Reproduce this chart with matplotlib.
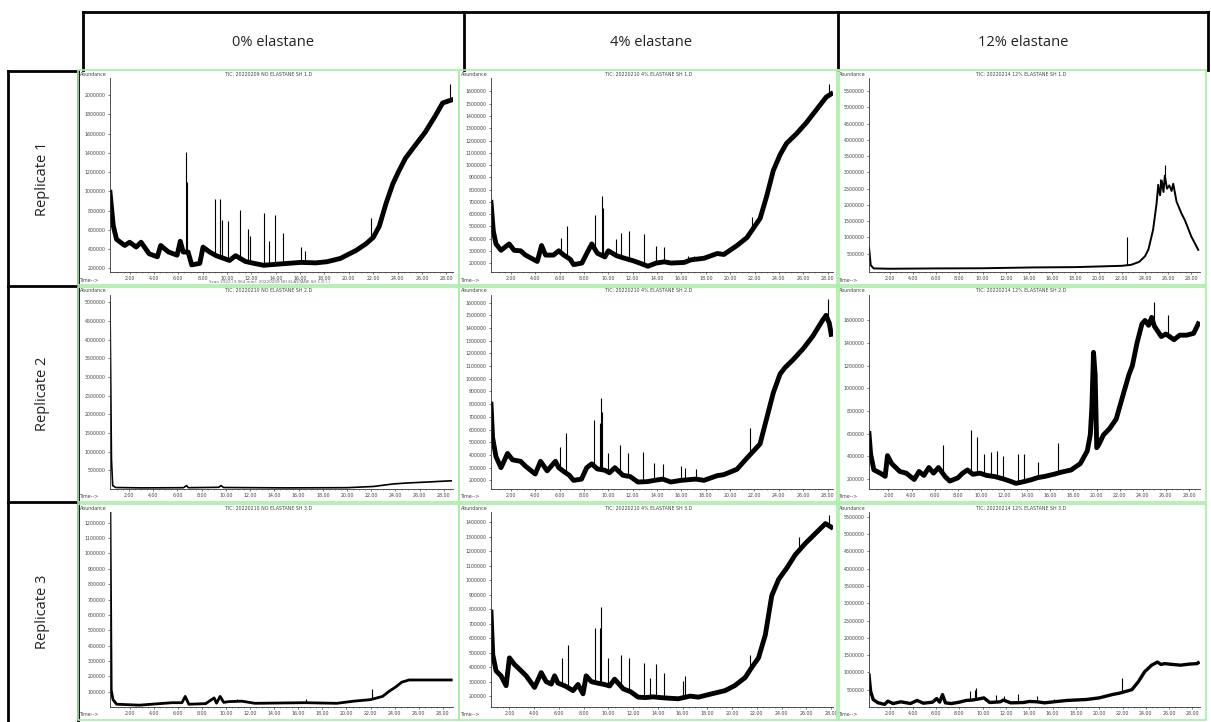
import numpy as np
import matplotlib.pyplot as plt
from matplotlib.lines import Line2D
from matplotlib.patches import Rectangle

W, H = 1211, 722

columns = ["0% elastane", "4% elastane", "12% elastane"]
replicates = ["Replicate 1", "Replicate 2", "Replicate 3"]

titles = [
    ["TIC: 20220209 NO ELASTANE SH 1.D", "TIC: 20220210 4% ELASTANE SH 1.D", "TIC: 20220214 12% ELASTANE SH 1.D"],
    ["TIC: 20220210 NO ELASTANE SH 2.D", "TIC: 20220210 4% ELASTANE SH 2.D", "TIC: 20220214 12% ELASTANE SH 2.D"],
    ["TIC: 20220210 NO ELASTANE SH 3.D", "TIC: 20220210 4% ELASTANE SH 3.D", "TIC: 20220214 12% ELASTANE SH 3.D"],
]

# baseline traces as (retention time [min], abundance); spikes as (time, apex)
base_0_1 = [(0.39, 990000), (0.66, 640000), (0.93, 500000), (1.6, 436000), (2.0, 470000), (2.54, 420000),
            (2.94, 470000), (3.6, 350000), (4.28, 318000), (4.55, 436000), (5.2, 368000), (5.9, 335000),
            (6.16, 480000), (6.4, 368000), (6.8, 368000), (7.1, 234000), (7.76, 250000), (8.03, 419000),
            (8.57, 368000), (9.1, 330000), (9.77, 300000), (10.2, 280000), (10.7, 330000), (11.5, 270000),
            (12.2, 250000), (13.0, 230000), (14.0, 240000), (15.0, 250000), (16.07, 260000), (17.28, 255000),
            (18.2, 267000), (19.3, 301000), (20.6, 385000), (21.4, 453000), (22.0, 520000), (22.5, 637000),
            (23.05, 873000), (23.6, 1075000), (24.1, 1210000), (24.65, 1345000), (25.45, 1480000),
            (26.26, 1614000), (27.07, 1780000), (27.7, 1920000), (28.4, 1950000)]
peaks_0_1 = [(6.64, 1410000), (6.7, 1100000), (8.97, 924000), (9.43, 924000), (9.56, 705000), (10.04, 688000),
             (11.1, 806000), (11.7, 604000), (11.9, 537000), (13.0, 772000), (13.45, 486000), (13.93, 755000),
             (14.6, 570000), (16.07, 419000), (16.4, 380000), (21.84, 722000), (28.27, 2120000)]

base_4_1 = [(0.37, 695000), (0.56, 460000), (0.78, 356000), (1.19, 304000), (1.86, 356000), (2.27, 304000),
            (2.8, 300000), (3.2, 265000), (4.17, 213000), (4.52, 343000), (4.85, 265000), (5.5, 265000),
            (5.93, 300000), (6.34, 265000), (6.88, 230000), (7.15, 187000), (7.83, 200000), (8.23, 278000),
            (8.64, 356000), (9.1, 280000), (9.72, 250000), (10.0, 300000), (10.67, 260000), (11.3, 240000),
            (12.0, 220000), (12.57, 200000), (13.25, 174000), (13.93, 200000), (14.6, 210000), (15.14, 200000),
            (16.23, 205000), (16.77, 226000), (17.85, 239000), (18.94, 278000), (19.48, 270000),
            (20.56, 343000), (21.38, 408000), (22.46, 565000), (23.0, 747000), (23.54, 955000),
            (24.1, 1085000), (24.63, 1177000), (25.44, 1255000), (26.26, 1346000), (27.07, 1450000),
            (27.88, 1554000), (28.29, 1580000)]
peaks_4_1 = [(6.15, 408000), (6.6, 500000), (8.91, 590000), (9.45, 747000), (9.55, 650000), (10.67, 395000),
             (11.08, 447000), (11.67, 460000), (12.92, 434000), (13.93, 343000), (14.6, 330000),
             (16.5, 260000), (17.0, 260000), (21.78, 577000), (28.15, 1660000)]

base_12_1 = [(0.2, 700000), (0.35, 150000), (0.6, 50000), (2.0, 40000), (6.0, 50000), (10.0, 55000),
             (14.3, 80000), (18.0, 90000), (22.0, 130000), (22.8, 160000), (23.5, 250000), (24.0, 420000),
             (24.3, 630000), (24.7, 1230000), (25.0, 2030000), (25.15, 2620000), (25.3, 2300000),
             (25.45, 2750000), (25.6, 2400000), (25.72, 2900000), (25.9, 2500000), (26.1, 2600000),
             (26.3, 2430000), (26.44, 2650000), (26.73, 2100000), (27.16, 1730000), (27.45, 1530000),
             (28.0, 1030000), (28.6, 620000)]
peaks_12_1 = [(22.43, 1010000), (25.3, 2800000), (25.72, 3220000)]

base_0_2 = [(0.43, 5000000), (0.55, 800000), (0.65, 93000), (0.9, 40000), (3.0, 30000), (6.5, 35000),
            (6.74, 90000), (6.9, 35000), (9.4, 45000), (9.6, 90000), (9.8, 40000), (15.0, 30000),
            (20.0, 35000), (22.2, 68000), (23.8, 135000), (24.9, 160000), (26.5, 185000), (28.6, 220000)]
peaks_0_2 = []

base_4_2 = [(0.37, 800000), (0.5, 537000), (0.78, 387000), (1.19, 300000), (1.73, 412000), (2.13, 362000),
            (2.8, 350000), (3.2, 312000), (4.0, 250000), (4.44, 350000), (4.98, 275000), (5.66, 350000),
            (5.93, 300000), (6.34, 270000), (6.8, 240000), (7.15, 200000), (7.8, 210000), (8.23, 300000),
            (8.64, 330000), (9.1, 290000), (9.7, 280000), (10.1, 260000), (10.54, 300000), (11.2, 240000),
            (11.8, 230000), (12.43, 187000), (13.2, 190000), (13.79, 200000), (14.47, 210000),
            (15.14, 187000), (15.96, 200000), (17.18, 210000), (17.85, 200000), (18.94, 237000),
            (19.48, 245000), (20.56, 287000), (21.38, 375000), (22.46, 487000), (23.0, 687000),
            (23.54, 887000), (24.1, 1037000), (24.5, 1087000), (25.17, 1150000), (26.0, 1237000),
            (26.8, 1337000), (27.6, 1462000), (27.88, 1500000), (28.15, 1437000), (28.3, 1350000)]
peaks_4_2 = [(6.07, 462000), (6.55, 575000), (8.86, 675000), (9.32, 650000), (9.4, 850000), (9.5, 737000),
             (9.94, 412000), (11.0, 475000), (11.62, 412000), (12.84, 425000), (13.79, 337000),
             (14.47, 325000), (15.96, 312000), (16.3, 300000), (17.18, 287000), (21.65, 612000),
             (28.0, 1625000)]

base_12_2 = [(0.32, 600000), (0.46, 419000), (0.74, 279000), (1.3, 250000), (1.72, 222000), (1.92, 405000),
             (2.28, 335000), (2.98, 265000), (3.54, 250000), (4.23, 194000), (4.65, 265000), (5.07, 230000),
             (5.5, 300000), (5.9, 250000), (6.33, 300000), (6.9, 220000), (7.3, 180000), (8.0, 208000),
             (8.42, 250000), (8.84, 278000), (9.3, 240000), (9.9, 250000), (10.5, 230000), (11.2, 220000),
             (11.9, 200000), (12.5, 180000), (13.03, 160000), (13.5, 170000), (14.3, 190000), (14.9, 210000),
             (15.55, 222000), (16.3, 240000), (17.0, 260000), (17.8, 278000), (18.6, 335000), (19.2, 447000),
             (19.46, 588000), (19.6, 840000), (19.74, 1318000), (19.88, 1120000), (20.02, 475000),
             (20.2, 503000), (20.6, 588000), (21.13, 644000), (21.7, 728000), (22.25, 925000),
             (22.8, 1120000), (23.1, 1200000), (23.5, 1400000), (23.93, 1570000), (24.2, 1600000),
             (24.5, 1557000), (24.77, 1627000), (25.0, 1550000), (25.6, 1458000), (26.0, 1480000),
             (26.7, 1430000), (27.2, 1470000), (27.8, 1470000), (28.4, 1486000), (28.8, 1570000)]
peaks_12_2 = [(6.75, 503000), (9.12, 630000), (9.63, 573000), (10.24, 419000), (10.88, 433000),
              (11.36, 447000), (11.92, 405000), (13.2, 419000), (13.73, 419000), (14.9, 349000),
              (16.66, 517000), (24.99, 1767000), (26.2, 1650000)]

base_0_3 = [(0.35, 1260000), (0.45, 110000), (0.6, 48000), (0.9, 18000), (2.8, 12000), (5.5, 28000),
            (6.33, 28000), (6.6, 69000), (6.9, 18000), (8.3, 22000), (9.0, 59000), (9.2, 25000),
            (9.5, 69000), (9.8, 30000), (10.2, 35000), (11.3, 38000), (12.4, 24000), (16.5, 28000),
            (19.2, 24000), (20.6, 38000), (22.0, 48000), (23.0, 69000), (23.5, 100000), (24.1, 131000),
            (24.6, 162000), (25.2, 176000), (25.7, 176000), (28.7, 176000)]
peaks_0_3 = [(10.9, 50000), (16.6, 50000), (22.1, 120000)]

base_4_3 = [(0.51, 780000), (0.65, 487000), (0.92, 374000), (1.32, 340000), (1.73, 272000), (2.0, 464000),
            (2.4, 419000), (2.95, 374000), (3.35, 340000), (4.03, 260000), (4.57, 362000), (4.97, 300000),
            (5.38, 283000), (5.65, 340000), (5.92, 290000), (6.5, 270000), (7.14, 238000), (7.54, 280000),
            (7.95, 216000), (8.2, 340000), (8.62, 300000), (9.1, 290000), (9.7, 280000), (10.1, 270000),
            (10.5, 317000), (11.2, 250000), (11.8, 230000), (12.4, 193000), (13.0, 190000), (13.6, 195000),
            (14.2, 190000), (15.0, 185000), (15.65, 182000), (16.6, 200000), (17.27, 193000),
            (18.35, 216000), (19.43, 238000), (20.2, 272000), (21.05, 328000), (21.6, 400000),
            (22.13, 464000), (22.68, 622000), (23.2, 893000), (23.76, 1006000), (24.43, 1085000),
            (25.1, 1175000), (25.92, 1254000), (26.73, 1322000), (27.54, 1390000), (28.0, 1366000)]
peaks_4_3 = [(6.27, 464000), (6.73, 554000), (8.89, 667000), (9.3, 667000), (9.43, 814000), (9.97, 464000),
             (11.05, 487000), (11.65, 464000), (12.9, 430000), (13.35, 328000), (13.84, 419000),
             (14.5, 362000), (16.0, 306000), (16.2, 340000), (21.46, 487000), (25.4, 1300000),
             (27.8, 1446000)]

base_12_3 = [(0.24, 925000), (0.38, 453000), (0.6, 217000), (1.0, 123000), (1.58, 75000), (1.86, 170000),
             (2.3, 100000), (2.98, 150000), (3.8, 100000), (4.37, 189000), (4.9, 110000), (5.7, 140000),
             (6.05, 245000), (6.3, 140000), (6.55, 358000), (6.8, 120000), (7.3, 100000), (8.0, 140000),
             (8.56, 189000), (9.1, 200000), (9.6, 230000), (10.1, 264000), (10.6, 130000), (11.5, 150000),
             (11.78, 200000), (12.4, 120000), (13.5, 130000), (14.0, 160000), (14.7, 150000),
             (15.3, 120000), (16.1, 150000), (17.2, 189000), (18.9, 217000), (20.0, 264000),
             (21.1, 358000), (21.8, 405000), (22.8, 500000), (23.37, 736000), (23.9, 1020000),
             (24.5, 1210000), (25.0, 1300000), (25.3, 1230000), (25.6, 1255000), (26.3, 1230000),
             (27.0, 1210000), (27.7, 1240000), (28.4, 1255000), (28.5, 1280000)]
peaks_12_3 = [(8.9, 453000), (9.3, 500000), (9.4, 547000), (11.16, 358000), (11.8, 311000), (13.03, 377000),
              (14.7, 311000), (16.1, 245000), (21.97, 830000)]

bases = [[base_0_1, base_4_1, base_12_1], [base_0_2, base_4_2, base_12_2], [base_0_3, base_4_3, base_12_3]]
peaks = [[peaks_0_1, peaks_4_1, peaks_12_1], [peaks_0_2, peaks_4_2, peaks_12_2], [peaks_0_3, peaks_4_3, peaks_12_3]]

# y axis: (first tick, last tick, step, lower limit, upper limit)
yscales = [
    [(200000, 2000000, 200000, 160000, 2180000), (200000, 1600000, 100000, 127000, 1710000),
     (500000, 5500000, 500000, -60000, 5900000)],
    [(500000, 5000000, 500000, 0, 5200000), (200000, 1600000, 100000, 132000, 1660000),
     (200000, 1600000, 200000, 110000, 1825000)],
    [(100000, 1200000, 100000, 0, 1270000), (200000, 1400000, 100000, 125000, 1470000),
     (500000, 5500000, 500000, 0, 5640000)],
]
trace_width = [[3.5, 3.5, 1.4], [1.2, 3.5, 3.5], [2.0, 3.5, 2.4]]

col_px = [(78, 459), (459, 839), (837, 1206)]
row_px = [(70, 285), (287, 502), (504, 720)]

plt.rcParams['font.family'] = ['DejaVu Sans']
fig = plt.figure(figsize=(W / 100, H / 100), dpi=100)
fig.patch.set_facecolor('white')


def fx(x):
    return x / W


def fy(y):
    return 1 - y / H


def hline(x0, x1, y, lw=2.0, color='black'):
    fig.add_artist(Line2D([fx(x0), fx(x1)], [fy(y), fy(y)], color=color, lw=lw,
                          transform=fig.transFigure, solid_capstyle='projecting'))


def vline(x, y0, y1, lw=2.0, color='black'):
    fig.add_artist(Line2D([fx(x), fx(x)], [fy(y0), fy(y1)], color=color, lw=lw,
                          transform=fig.transFigure, solid_capstyle='projecting'))


# header boxes with the elastane content
hline(83, 1208, 12)
for x in [83, 464, 838, 1208]:
    vline(x, 12, 70)
for j, name in enumerate(columns):
    xc = [273, 651, 1023][j]
    fig.text(fx(xc), fy(43), name, ha='center', va='center', fontsize=10.5,
             family='Open Sans', color='#222')

# replicate boxes on the left
row_box = [(71, 286), (286, 502), (502, 722)]
for i, (y0, y1) in enumerate(row_box):
    hline(8, 78, y0)
    vline(8, y0, y1)
    vline(78, y0, y1)
    fig.text(fx(43), fy((y0 + y1) / 2), replicates[i], rotation=90, ha='center', va='center',
             fontsize=10.5, family='Open Sans', color='#222')

small = dict(fontsize=3.4, color='#444')

for i in range(3):
    for j in range(3):
        px0, px1 = col_px[j]
        py0, py1 = row_px[i]
        fig.add_artist(Rectangle((fx(px0), fy(py1)), fx(px1 - px0), (py1 - py0) / H, fill=False,
                                 edgecolor='#a9eea9', lw=1.2, transform=fig.transFigure, zorder=5))

        ax = fig.add_axes([fx(px0 + 32), fy(py1 - 13), fx(px1 - 6 - px0 - 32), (py1 - 13 - py0 - 8) / H])
        bt, by = zip(*bases[i][j])
        ax.plot(bt, by, color='black', lw=trace_width[i][j], solid_joinstyle='round')
        if peaks[i][j]:
            pt, py = zip(*peaks[i][j])
            ax.vlines(pt, np.interp(pt, bt, by), py, color='black', lw=0.8)

        y_first, y_last, y_step, y_lo, y_hi = yscales[i][j]
        yt = np.arange(y_first, y_last + y_step, y_step)
        ax.set_yticks(yt, labels=[str(int(v)) for v in yt])
        ax.set_ylim(y_lo, y_hi)
        xt = np.arange(2, 29, 2)
        ax.set_xticks(xt, labels=[f"{v:.2f}" for v in xt])
        ax.set_xticks(np.arange(1, 29, 0.5), minor=True)
        ax.set_xlim(bt[0], bt[-1] + 0.15)

        for side in ['top', 'right']:
            ax.spines[side].set_visible(False)
        for side in ['left', 'bottom']:
            ax.spines[side].set_linewidth(0.6)
            ax.spines[side].set_color('#333')
        ax.tick_params(axis='both', which='major', length=1.5, width=0.5, pad=1.5,
                       labelsize=3.4, labelcolor='#444', color='#444')
        ax.tick_params(axis='x', which='minor', length=1.0, width=0.4, color='#666')

        fig.text(fx(px0 + 2), fy(py0 + 4), "Abundance", ha='left', va='center', **small)
        fig.text(fx((px0 + px1) / 2), fy(py0 + 4), titles[i][j], ha='center', va='center', **small)
        fig.text(fx(px0 + 2), fy(py1 - 5), "Time-->", ha='left', va='center', **small)

# scan info line printed under the first chromatogram
fig.text(fx(270), fy(282), "Scan 2922 (3.964 min): 20220209 NO ELASTANE SH 1.D (-)",
         ha='center', va='center', fontsize=3.0, color='#666')

fig.savefig('out.png', dpi=100, facecolor='white')
